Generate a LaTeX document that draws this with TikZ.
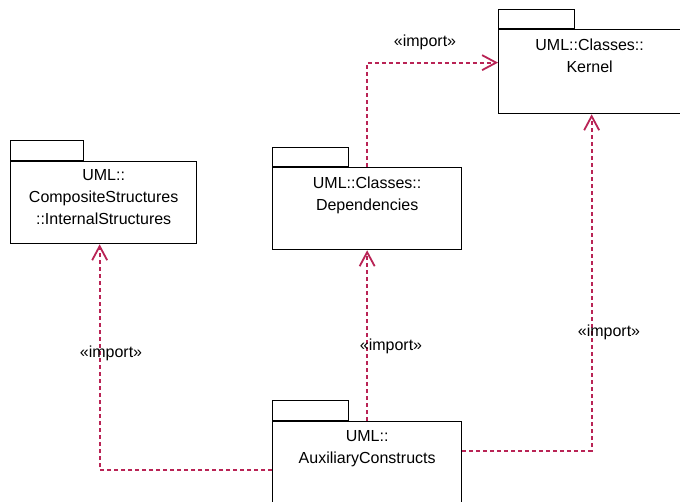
\documentclass[tikz,border=0pt]{standalone}
\usepackage{fontspec}
\setmainfont{Liberation Sans}
\usetikzlibrary{arrows.meta,positioning,calc}
\definecolor{imp}{RGB}{185,35,85}
\begin{document}
\begin{tikzpicture}[x=1pt,y=-1pt,
  pkgbody/.style={draw=black,line width=1.3pt,fill=white,rectangle,inner sep=0pt,anchor=north west},
  pkgtab/.style={draw=black,line width=1.3pt,fill=white,rectangle,inner sep=0pt,anchor=south west,minimum width=76pt,minimum height=19pt},
  pkgtext/.style={font=\fontsize{16}{22}\selectfont,align=center,inner sep=0pt,anchor=north},
  implabel/.style={font=\fontsize{16}{20}\selectfont,inner sep=0pt},
  impline/.style={draw=imp,line width=2pt,dash pattern=on 4pt off 3pt,
     -{Straight Barb[length=14pt,width=15pt,line width=1.8pt]}}
]
\useasboundingbox (0,0) rectangle (680,502);
\fill[white] (0,0) rectangle (680,502);

% Kernel
\node[pkgbody,minimum width=182pt,minimum height=84pt] (kernel) at (498,29) {};
\node[pkgtab] (kerneltab) at (kernel.north west) {};
\node[pkgtext] (kernelt) at ([yshift=-10pt]kernel.north) {UML::Classes::\\Kernel};

% Dependencies
\node[pkgbody,minimum width=189pt,minimum height=82pt] (dep) at (272,167) {};
\node[pkgtab] (deptab) at (dep.north west) {};
\node[pkgtext] (dept) at ([yshift=-10pt]dep.north) {UML::Classes::\\Dependencies};

% Composite
\node[pkgbody,minimum width=186pt,minimum height=82pt] (comp) at (10,161) {};
\node[pkgtab,minimum width=73pt,minimum height=20pt] (comptab) at (comp.north west) {};
\node[pkgtext] (compt) at ([yshift=-8pt]comp.north) {UML::\\CompositeStructures\\::InternalStructures};

% Auxiliary
\node[pkgbody,minimum width=189pt,minimum height=84pt] (aux) at (272,421) {};
\node[pkgtab,minimum height=20pt] (auxtab) at (aux.north west) {};
\node[pkgtext] (auxt) at ([yshift=-9pt]aux.north) {UML::\\AuxiliaryConstructs};

% connectors
\draw[impline] (dep.north) |- ([yshift=9pt]kernel.west);
\draw[impline] (aux.north) -- (dep.south);
\draw[impline] ([yshift=-6pt]aux.west) -| ([xshift=-4pt]comp.south);
\draw[impline] ([yshift=13pt]aux.east) -| ([xshift=2pt]kernel.south);

% labels
\node[implabel] (l1) at (425,42) {«import»};
\node[implabel] (l2) at (111,353) {«import»};
\node[implabel] (l3) at (391,346) {«import»};
\node[implabel] (l4) at (609,332) {«import»};
\end{tikzpicture}
\end{document}
